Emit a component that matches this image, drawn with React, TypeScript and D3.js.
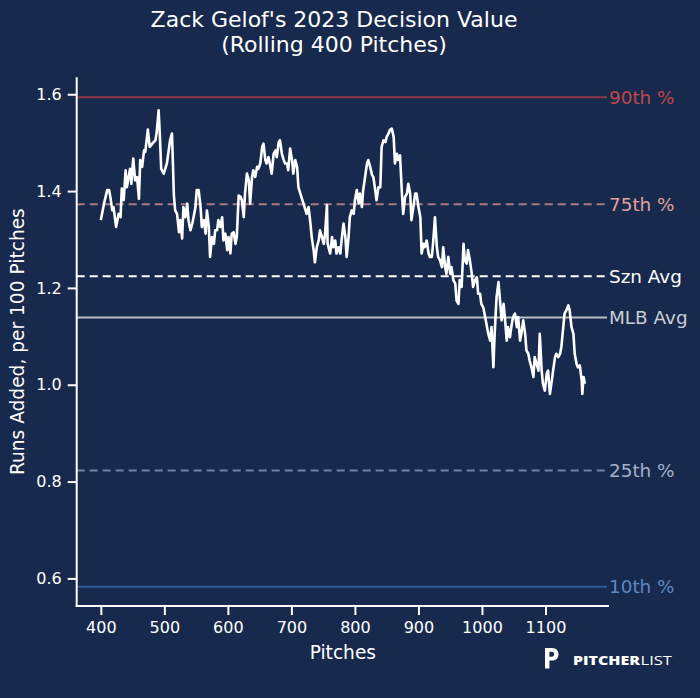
import { useEffect, useRef } from "react";
import * as d3 from "d3";

// rolling 400-pitch decision value, [pitch number, runs added per 100 pitches]
const rollingDV: [number, number][] = [
  [400, 1.34], [405, 1.374], [410, 1.402], [413, 1.402], [415, 1.388], [418, 1.36], [420, 1.367],
  [424, 1.326], [428, 1.353], [431, 1.346], [433, 1.405], [436, 1.381], [439, 1.443], [441, 1.408],
  [446, 1.446], [448, 1.415], [451, 1.467], [454, 1.422], [457, 1.429], [460, 1.384], [462, 1.464],
  [465, 1.45], [468, 1.484], [470, 1.481], [474, 1.527], [477, 1.491], [481, 1.498], [486, 1.505],
  [488, 1.522], [491, 1.567], [493, 1.512], [495, 1.446], [499, 1.436], [504, 1.457], [509, 1.505],
  [512, 1.519], [515, 1.391], [517, 1.36], [520, 1.353], [523, 1.315], [525, 1.34], [528, 1.302],
  [530, 1.367], [533, 1.346], [536, 1.374], [538, 1.34], [541, 1.319], [544, 1.333], [546, 1.346],
  [549, 1.367], [551, 1.402], [554, 1.402], [557, 1.367], [559, 1.326], [562, 1.34], [565, 1.312],
  [567, 1.36], [570, 1.326], [572, 1.264], [575, 1.305], [578, 1.291], [580, 1.319], [583, 1.319],
  [585, 1.34], [588, 1.326], [591, 1.346], [593, 1.298], [596, 1.312], [599, 1.278], [601, 1.305],
  [604, 1.271], [606, 1.312], [609, 1.315], [612, 1.291], [614, 1.305], [617, 1.391], [620, 1.388],
  [622, 1.381], [625, 1.346], [627, 1.395], [630, 1.436], [633, 1.422], [635, 1.374], [638, 1.429],
  [640, 1.443], [643, 1.429], [646, 1.45], [648, 1.446], [651, 1.457], [654, 1.491], [656, 1.498],
  [659, 1.464], [661, 1.457], [664, 1.47], [667, 1.45], [669, 1.436], [672, 1.477], [675, 1.484],
  [677, 1.47], [680, 1.501], [682, 1.505], [685, 1.477], [688, 1.464], [690, 1.457], [693, 1.457],
  [695, 1.443], [698, 1.488], [701, 1.464], [703, 1.436], [706, 1.464], [709, 1.45], [711, 1.408],
  [714, 1.395], [719, 1.374], [724, 1.353], [727, 1.367], [730, 1.333], [732, 1.305], [735, 1.278],
  [737, 1.253], [740, 1.284], [743, 1.298], [745, 1.319], [748, 1.305], [751, 1.291], [753, 1.312],
  [756, 1.371], [757, 1.291], [761, 1.271], [764, 1.305], [766, 1.284], [769, 1.298], [771, 1.271],
  [774, 1.284], [777, 1.271], [779, 1.298], [782, 1.333], [785, 1.305], [787, 1.264], [790, 1.305],
  [792, 1.346], [795, 1.36], [798, 1.353], [800, 1.381], [803, 1.402], [806, 1.374], [808, 1.395],
  [811, 1.367], [813, 1.402], [816, 1.429], [819, 1.457], [821, 1.464], [824, 1.45], [827, 1.433],
  [829, 1.429], [832, 1.402], [834, 1.381], [837, 1.408], [840, 1.408], [842, 1.491], [845, 1.505],
  [848, 1.501], [850, 1.512], [853, 1.519], [855, 1.526], [858, 1.529], [861, 1.512], [863, 1.457],
  [866, 1.477], [868, 1.464], [871, 1.474], [874, 1.395], [876, 1.353], [879, 1.388], [882, 1.395],
  [884, 1.415], [887, 1.395], [889, 1.34], [892, 1.367], [895, 1.395], [897, 1.395], [900, 1.367],
  [903, 1.346], [905, 1.271], [908, 1.291], [910, 1.284], [913, 1.298], [916, 1.271], [918, 1.264],
  [921, 1.264], [923, 1.291], [926, 1.346], [929, 1.284], [931, 1.264], [934, 1.257], [937, 1.243],
  [939, 1.284], [942, 1.243], [944, 1.229], [947, 1.264], [950, 1.229], [952, 1.243], [955, 1.216],
  [958, 1.209], [960, 1.174], [963, 1.167], [965, 1.216], [968, 1.202], [971, 1.291], [973, 1.257],
  [976, 1.25], [978, 1.278], [981, 1.257], [984, 1.229], [986, 1.202], [989, 1.216], [992, 1.222],
  [994, 1.188], [997, 1.188], [999, 1.167], [1002, 1.16], [1005, 1.14], [1007, 1.126], [1010, 1.105],
  [1013, 1.091], [1015, 1.119], [1018, 1.036], [1020, 1.105], [1023, 1.181], [1026, 1.212],
  [1028, 1.181], [1031, 1.133], [1034, 1.167], [1036, 1.14], [1039, 1.091], [1041, 1.119],
  [1044, 1.098], [1047, 1.126], [1049, 1.14], [1052, 1.147], [1055, 1.119], [1057, 1.14],
  [1060, 1.091], [1062, 1.105], [1065, 1.133], [1068, 1.105], [1070, 1.071], [1073, 1.064],
  [1075, 1.05], [1078, 1.036], [1081, 1.016], [1083, 1.057], [1086, 1.043], [1089, 1.029],
  [1091, 1.105], [1094, 1.029], [1096, 1.002], [1099, 0.988], [1102, 1.023], [1104, 1.029],
  [1107, 0.981], [1110, 1.009], [1112, 1.029], [1115, 1.057], [1117, 1.064], [1120, 1.057],
  [1123, 1.064], [1125, 1.078], [1128, 1.119], [1130, 1.147], [1133, 1.154], [1136, 1.164],
  [1138, 1.154], [1141, 1.119], [1144, 1.105], [1146, 1.064], [1149, 1.043], [1151, 1.036],
  [1154, 1.04], [1157, 1.009], [1158, 0.981], [1160, 1.016], [1162, 1.002]
];

const refNames = ["90th %", "75th %", "Szn Avg", "MLB Avg", "25th %", "10th %"];
const refValues = [1.594, 1.373, 1.224, 1.139, 0.823, 0.583];

const xTicks = [400, 500, 600, 700, 800, 900, 1000, 1100];
const yTicks = [0.6, 0.8, 1.0, 1.2, 1.4, 1.6];

const refStyle: Record<string, { line: string; text: string; dash: string | null }> = {
  "90th %": { line: "#8c3840", text: "#c0474b", dash: null },
  "75th %": { line: "#a87a82", text: "#e2a29c", dash: "8,5" },
  "Szn Avg": { line: "#ffffff", text: "#ffffff", dash: "8,5" },
  "MLB Avg": { line: "#b9bec8", text: "#c9cdd5", dash: null },
  "25th %": { line: "#6e82a6", text: "#a4b1c9", dash: "8,5" },
  "10th %": { line: "#2d5a9a", text: "#5d88c2", dash: null }
};

const W = 700;
const H = 698;
const BG = "#172a4d";
const FONT = "'DejaVu Sans', sans-serif";

export default function App() {
  const ref = useRef<SVGSVGElement | null>(null);

  useEffect(() => {
    if (!ref.current) return;
    const svg = d3.select(ref.current);
    svg.selectAll("*").remove();

    const left = 76.7;
    const right = 609;
    const top = 77.3;
    const bottom = 606;

    const x = d3.scaleLinear().domain([362, 1200]).range([left, right]);
    const y = d3.scaleLinear().domain([0.543, 1.635]).range([bottom, top]);

    svg.append("rect").attr("width", W).attr("height", H).attr("fill", BG);

    // reference lines + labels
    const refs = refNames.map((name, i) => ({ name, value: refValues[i] }));
    const g = svg.append("g");
    g.selectAll("line.ref")
      .data(refs)
      .join("line")
      .attr("class", "ref")
      .attr("x1", left)
      .attr("x2", right - 2)
      .attr("y1", (d) => y(d.value))
      .attr("y2", (d) => y(d.value))
      .attr("stroke", (d) => refStyle[d.name].line)
      .attr("stroke-width", 2)
      .attr("stroke-dasharray", (d) => refStyle[d.name].dash);

    g.selectAll("text.ref")
      .data(refs)
      .join("text")
      .attr("class", "ref")
      .attr("x", right)
      .attr("y", (d) => y(d.value))
      .attr("dy", "0.36em")
      .attr("fill", (d) => refStyle[d.name].text)
      .style("font-family", FONT)
      .style("font-size", "18.4px")
      .text((d) => d.name);

    // rolling line
    const line = d3
      .line<[number, number]>()
      .x((d) => x(d[0]))
      .y((d) => y(d[1]));
    svg
      .append("path")
      .datum(rollingDV)
      .attr("d", line)
      .attr("fill", "none")
      .attr("stroke", "#ffffff")
      .attr("stroke-width", 2.6)
      .attr("stroke-linejoin", "round");

    // axes
    const xAxis = svg
      .append("g")
      .attr("transform", `translate(0,${bottom})`)
      .call(d3.axisBottom(x).tickValues(xTicks).tickSize(9).tickSizeOuter(0).tickPadding(7).tickFormat(d3.format("d")));
    const yAxis = svg
      .append("g")
      .attr("transform", `translate(${left},0)`)
      .call(d3.axisLeft(y).tickValues(yTicks).tickSize(9).tickSizeOuter(0).tickPadding(6).tickFormat(d3.format(".1f")));

    [xAxis, yAxis].forEach((a) => {
      a.select(".domain").attr("stroke", "#ffffff").attr("stroke-width", 2);
      a.selectAll(".tick line").attr("stroke", "#ffffff").attr("stroke-width", 2);
      a.selectAll(".tick text")
        .attr("fill", "#ffffff")
        .style("font-family", FONT)
        .style("font-size", "16px");
    });
    xAxis.select(".domain").attr("d", `M${left - 1},0H${right}`);
    yAxis.select(".domain").attr("d", `M0,${top}V${bottom + 1}`);

    // titles
    const title = svg
      .append("text")
      .attr("text-anchor", "middle")
      .attr("fill", "#ffffff")
      .style("font-family", FONT)
      .style("font-size", "22px");
    title.append("tspan").attr("x", 334).attr("y", 26.7).text("Zack Gelof's 2023 Decision Value");
    title.append("tspan").attr("x", 334).attr("y", 51.7).text("(Rolling 400 Pitches)");

    svg
      .append("text")
      .attr("x", (left + right) / 2)
      .attr("y", 659)
      .attr("text-anchor", "middle")
      .attr("fill", "#ffffff")
      .style("font-family", FONT)
      .style("font-size", "18.6px")
      .text("Pitches");

    svg
      .append("text")
      .attr("transform", `translate(23.5,${(top + bottom) / 2}) rotate(-90)`)
      .attr("text-anchor", "middle")
      .attr("fill", "#ffffff")
      .style("font-family", FONT)
      .style("font-size", "18.6px")
      .text("Runs Added, per 100 Pitches");

    // Pitcher List logo
    const logo = svg.append("g").attr("transform", "translate(545,648)");
    logo
      .append("path")
      .attr("d", "M0,0H7C11.5,0 13.5,3 13.5,6.3C13.5,9.8 11.5,12.6 7,12.6H4.4V20.5H0Z M4.4,3.8V8.8H6.8C8.4,8.8 9.1,7.8 9.1,6.3C9.1,4.8 8.4,3.8 6.8,3.8Z")
      .attr("fill", "#ffffff")
      .attr("fill-rule", "evenodd");
    logo
      .append("text")
      .attr("x", 28)
      .attr("y", 16.5)
      .attr("fill", "#ffffff")
      .attr("textLength", 67)
      .attr("lengthAdjust", "spacingAndGlyphs")
      .style("font-family", "'Open Sans', 'DejaVu Sans', sans-serif")
      .style("font-size", "12.5px")
      .style("font-weight", "800")
      .text("PITCHER");
    logo
      .append("text")
      .attr("x", 95.5)
      .attr("y", 16.5)
      .attr("fill", "#ffffff")
      .attr("textLength", 31.5)
      .attr("lengthAdjust", "spacingAndGlyphs")
      .style("font-family", "'Open Sans', 'DejaVu Sans', sans-serif")
      .style("font-size", "12.5px")
      .style("font-weight", "400")
      .text("LIST");
  }, []);

  return (
    <svg
      ref={ref}
      width={W}
      height={H}
      style={{ position: "fixed", left: 0, top: 0, display: "block" }}
    />
  );
}
